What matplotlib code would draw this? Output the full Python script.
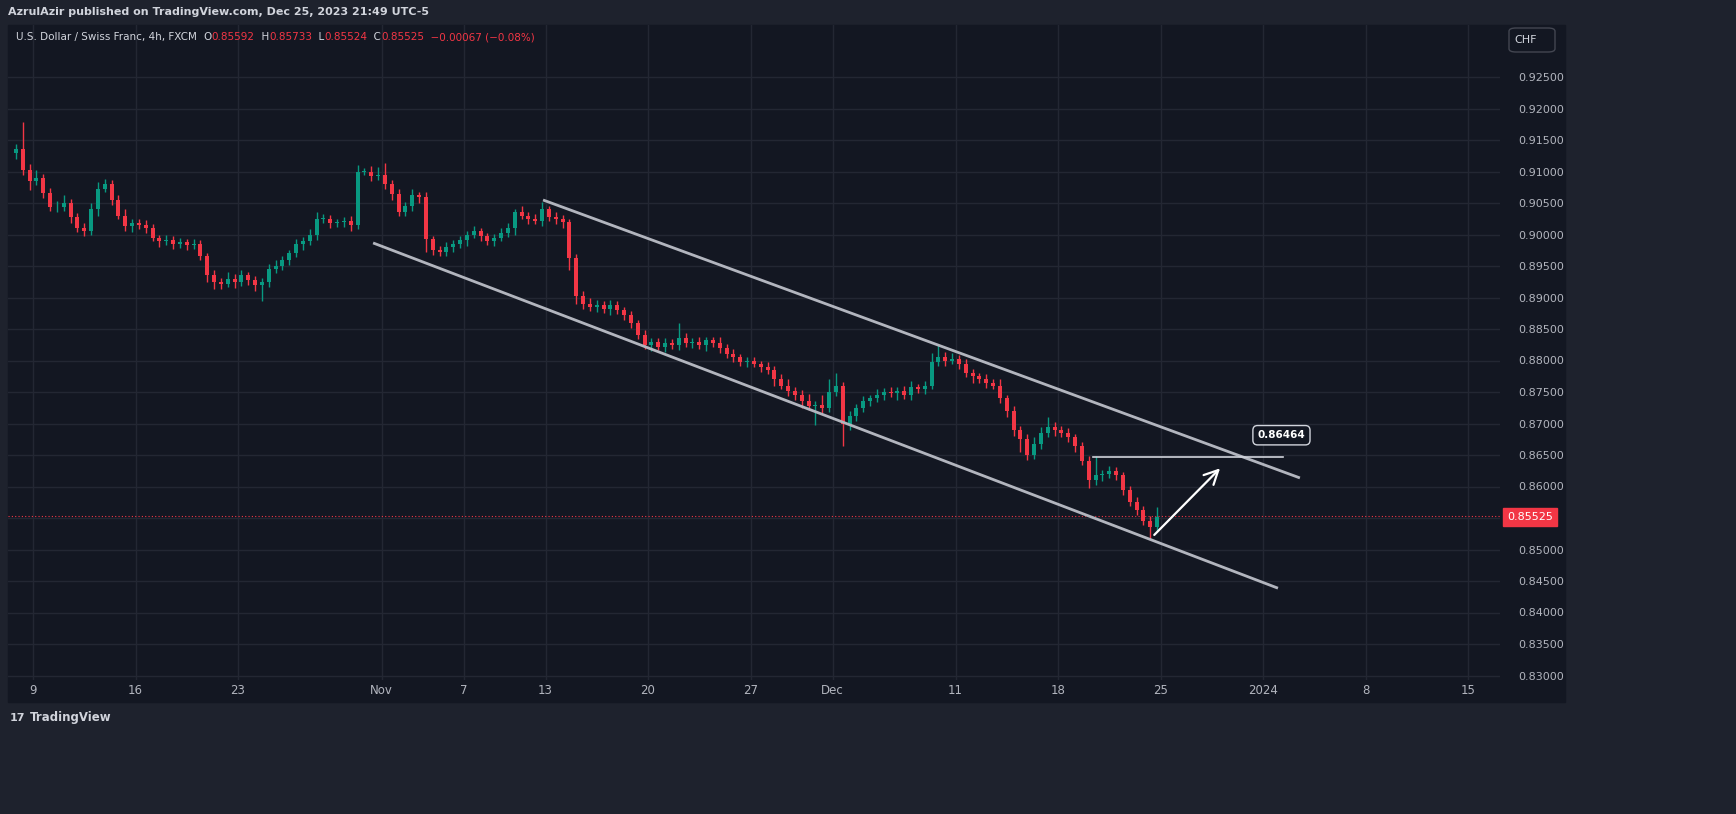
import matplotlib
matplotlib.use("Agg")
import matplotlib.pyplot as plt
from matplotlib.patches import Rectangle, FancyBboxPatch
import numpy as np

# ---------------- data ----------------
first_open = 0.9130
closes = [
 0.9136,0.9102,0.9085, 0.9090,0.9066,0.9043, 0.9043,0.9050,0.9028, 0.9010,0.9005,0.9040,
 0.9073,0.9080,0.9055, 0.9030,0.9014,0.9018, 0.9015,0.9010,0.8995, 0.8990,0.8992,0.8985,
 0.8988,0.8983,0.8985, 0.8966,0.8935,0.8925, 0.8922,0.8930,0.8925, 0.8935,0.8928,0.8920,
 0.8925,0.8945,0.8950, 0.8960,0.8970,0.8985, 0.8990,0.9000,0.9025, 0.9025,0.9018,0.9020,
 0.9022,0.9015,0.9100, 0.9100,0.9093,0.9095, 0.9080,0.9065,0.9035, 0.9045,0.9062,0.9060,
 0.8993,0.8975,0.8972, 0.8980,0.8985,0.8992, 0.9000,0.9005,0.8998, 0.8990,0.8995,0.9002,
 0.9010,0.9035,0.9030, 0.9025,0.9022,0.9040, 0.9028,0.9025,0.9020, 0.8963,0.8902,0.8890,
 0.8885,0.8888,0.8882, 0.8888,0.8880,0.8872, 0.8860,0.8840,0.8825, 0.8830,0.8822,0.8828,
 0.8825,0.8835,0.8828, 0.8830,0.8825,0.8832, 0.8828,0.8820,0.8810, 0.8805,0.8798,0.8800,
 0.8795,0.8790,0.8785, 0.8770,0.8760,0.8752, 0.8745,0.8735,0.8728, 0.8730,0.8725,0.8750,
 0.8760,0.8700,0.8712, 0.8725,0.8735,0.8740, 0.8745,0.8750,0.8748, 0.8752,0.8745,0.8758,
 0.8755,0.8760,0.8797, 0.8805,0.8800,0.8802, 0.8795,0.8780,0.8775, 0.8770,0.8765,0.8760,
 0.8740,0.8720,0.8690, 0.8675,0.8650,0.8668, 0.8685,0.8695,0.8690, 0.8685,0.8678,0.8665,
 0.8640,0.8610,0.8618, 0.8620,0.8625,0.8618, 0.8595,0.8575,0.8563, 0.8545,0.8535,0.8552,
]
upper_pips = [
 8,42,10, 12,6,8, 10,12,6, 6,8,10, 10,8,6, 8,10,6, 6,8,6, 5,8,6, 7,5,8, 6,5,8,
 6,10,8, 8,5,6, 6,8,10, 6,5,8, 6,8,10, 8,6,5, 6,8,10, 6,8,12, 18,6,8, 6,10,6,
 8,5,6, 8,6,5, 6,8,6, 5,6,8, 8,6,10, 6,8,12, 6,8,6, 5,6,8, 10,8,6, 8,6,5,
 6,5,8, 6,5,8, 6,25,8, 6,8,6, 5,10,6, 8,6,5, 6,5,8, 6,8,10, 6,8,12, 6,15,20,
 20,6,8, 6,8,6, 10,6,8, 6,8,10, 5,8,15, 20,8,10, 6,8,6, 5,8,6, 10,6,8, 6,8,10,
 10,15,8, 6,8,5, 6,8,30, 6,8,6, 5,6,8, 6,8,15,
]
lower_pips = [
 10,8,14, 6,8,6, 8,6,10, 6,8,6, 10,6,8, 6,8,10, 6,8,6, 10,6,8, 6,8,6, 6,10,12,
 8,6,10, 6,8,10, 25,8,6, 6,8,6, 10,6,8, 6,8,6, 8,10,6, 6,8,6, 8,10,6, 6,8,10,
 20,8,6, 6,8,6, 10,6,8, 6,8,6, 6,10,6, 8,6,8, 6,8,10, 20,12,8, 6,8,6, 10,6,8,
 8,6,6, 10,6,8, 6,8,6, 8,6,10, 6,8,6, 8,6,8, 6,8,6, 10,6,8, 8,10,6, 30,8,6,
 6,35,10, 8,6,8, 6,8,6, 10,6,8, 6,8,6, 6,8,6, 8,6,10, 6,8,6, 8,10,10, 20,8,6,
 8,6,10, 6,8,10, 6,12,8, 10,6,8, 8,6,8, 6,20,6,
]
date_labels = ["9","16","23","Nov","7","13","20","27","Dec","11","18","25","2024","8","15"]
date_days   = [1, 6, 11, 18, 22, 26, 31, 36, 40, 46, 51, 56, 61, 66, 71]
price_ticks = [0.830 + 0.005 * k for k in range(20)]

# drawings (day-units, price)
chan_top = ([25.88, 62.80], [0.90548, 0.86136])
chan_bot = ([17.59, 61.73], [0.89866, 0.84386])
target_price = 0.86464
target_span = [52.71, 61.98]
arrow_from = (55.6, 0.8520)
arrow_to = (59.0, 0.8632)
last_price = 0.85525
header_parts = [("O", "#d1d4dc"), ("0.85592", "#f23645"), ("  H", "#d1d4dc"), ("0.85733", "#f23645"),
                ("  L", "#d1d4dc"), ("0.85524", "#f23645"), ("  C", "#d1d4dc"), ("0.85525", "#f23645"),
                ("  \u22120.00067 (\u22120.08%)", "#f23645")]

# ---------------- figure ----------------
W, H = 1736, 814
BG = "#131722"; OUT = "#1e222d"; GRID = "#232733"
TXT = "#b2b5be"; GREEN = "#089981"; RED = "#f23645"
fig = plt.figure(figsize=(W/100, H/100), dpi=100, facecolor=OUT)
bgrect = Rectangle((8/W, (H-702)/H), (1565-8)/W, (702-25)/H,
                   transform=fig.transFigure, color=BG, zorder=-10)
fig.patches.append(bgrect)
L, R, T, B = 8, 1500, 25, 680
ax = fig.add_axes([L/W, (H-B)/H, (R-L)/W, (B-T)/H])
ax.set_zorder(1)
ax.set_facecolor(BG)
px_per_day = 20.5
x0 = 12.5
ax.set_xlim((L-x0)/px_per_day, (R-x0)/px_per_day)
ppx = 0.005/31.5
ax.set_ylim(0.925-(B-77)*ppx, 0.925+(77-T)*ppx)

n = len(closes)
opens = [first_open] + closes[:-1]
t = np.array([i//3 + (i % 3 + 0.5)/3 for i in range(n)])
o = np.array(opens); c = np.array(closes)
hi = np.maximum(o, c) + np.array(upper_pips)*1e-4
lo = np.minimum(o, c) - np.array(lower_pips)*1e-4
cols = [GREEN if cc >= oo else RED for oo, cc in zip(o, c)]
ax.vlines(t, lo, hi, colors=cols, linewidth=1, zorder=3)
bh = np.maximum(np.abs(c-o), 0.00008)
ax.bar(t, bh, bottom=np.minimum(o, c), width=0.2, color=cols, zorder=4, linewidth=0)

for d in date_days:
    ax.axvline(d, color=GRID, lw=1, zorder=1)
for p in price_ticks:
    ax.axhline(p, color=GRID, lw=1, zorder=1)

ax.plot(*chan_top, color="#b2b5be", lw=2, zorder=5, solid_capstyle="butt")
ax.plot(*chan_bot, color="#b2b5be", lw=2, zorder=5, solid_capstyle="butt")
ax.plot(target_span, [target_price]*2, color="#d1d4dc", lw=1.2, zorder=5)
ax.annotate("", xy=arrow_to, xytext=arrow_from,
            arrowprops=dict(arrowstyle="->,head_length=1.0,head_width=0.5", color="white", lw=1.6), zorder=6)
ax.axhline(last_price, color=RED, lw=0.8, ls=(0, (1, 2)), zorder=2)
ax.text(61.9, target_price+0.0035, f"{target_price:.5f}", color="white", fontsize=7.5, fontweight="bold",
        ha="center", va="center", zorder=7,
        bbox=dict(boxstyle="round,pad=0.45", fc=BG, ec="#d1d4dc", lw=1))

ax.set_xticks(date_days)
ax.set_xticklabels(date_labels)
ax.set_yticks(price_ticks)
ax.set_yticklabels(["" if abs(p - last_price) < 0.001 else f"{p:.5f}" for p in price_ticks])
ax.yaxis.tick_right()
ax.tick_params(axis="y", length=0, pad=13, labelsize=8, labelcolor=TXT)
ax.tick_params(axis="x", length=0, pad=3, labelsize=8.5, labelcolor=TXT)
for s in ax.spines.values():
    s.set_visible(False)

# price label on axis
fig.patches.append(Rectangle((1503/W, (H-526)/H), 54/W, 18/H, transform=fig.transFigure, color=RED, zorder=5))
fig.text(1530/W, (H-517)/H, f"{last_price:.5f}", color="white", fontsize=8, ha="center", va="center", zorder=6)
fig.patches.append(FancyBboxPatch((1509/W, (H-52)/H), 46/W, 24/H, boxstyle="round,pad=0,rounding_size=0.004",
                                  transform=fig.transFigure, fc=BG, ec="#434651", lw=1, zorder=5))
fig.text(1526/W, (H-40)/H, "CHF", color="#d1d4dc", fontsize=8, ha="center", va="center", zorder=6)

# header texts
fig.text(8/W, (H-12)/H, "AzrulAzir published on TradingView.com, Dec 25, 2023 21:49 UTC-5",
         color="#d1d4dc", fontsize=8, fontweight="bold", va="center")
hy = (H-37)/H
fig.canvas.draw()
r = fig.canvas.get_renderer()
tt = fig.text(16/W, hy, "U.S. Dollar / Swiss Franc, 4h, FXCM  ", color="#d1d4dc", fontsize=7.5, va="center")
xp = tt.get_window_extent(r).x1
for s, col in header_parts:
    tt = fig.text(xp/W, hy, s, color=col, fontsize=7.5, va="center")
    xp = tt.get_window_extent(r).x1
fig.text(10/W, (H-718)/H, "17", color="#d1d4dc", fontsize=8, fontweight="bold", va="center")
fig.text(30/W, (H-718)/H, "TradingView", color="#d1d4dc", fontsize=8.5, fontweight="bold", va="center")

fig.savefig("out.png", dpi=100, facecolor=OUT)
